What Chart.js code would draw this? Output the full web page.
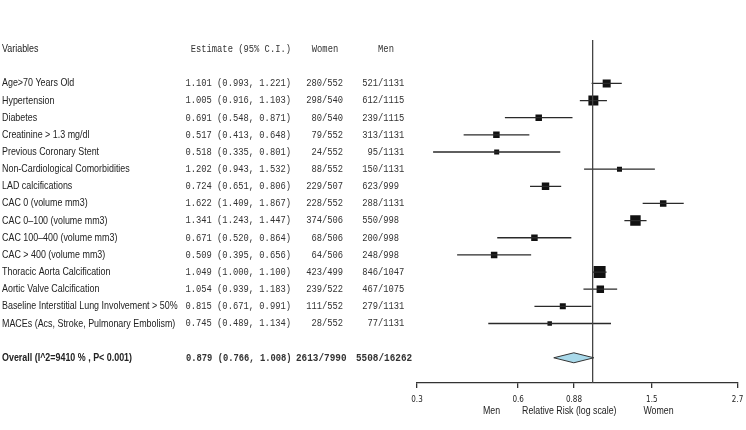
<!DOCTYPE html>
<html>
<head>
<meta charset="utf-8">
<script src="https://cdn.jsdelivr.net/npm/chart.js@4.4.0/dist/chart.umd.min.js"></script>
<style>
  html, body { margin: 0; padding: 0; background: #fff; }
  #wrap { width: 746px; height: 430px; position: relative; }
</style>
</head>
<body>
<div id="wrap"><canvas id="forest"></canvas></div>
<script>
// data
const variables = [
    'Age>70 Years Old',
    'Hypertension',
    'Diabetes',
    'Creatinine > 1.3 mg/dl',
    'Previous Coronary Stent',
    'Non-Cardiological Comorbidities',
    'LAD calcifications',
    'CAC 0 (volume mm3)',
    'CAC 0\u2013100 (volume mm3)',
    'CAC 100\u2013400 (volume mm3)',
    'CAC > 400 (volume mm3)',
    'Thoracic Aorta Calcification',
    'Aortic Valve Calcification',
    'Baseline Interstitial Lung Involvement > 50%',
    'MACEs (Acs, Stroke, Pulmonary Embolism)'
];
const estimates = [1.101, 1.005, 0.691, 0.517, 0.518, 1.202, 0.724, 1.622, 1.341, 0.671, 0.509, 1.049, 1.054, 0.815, 0.745];
const lowerCI   = [0.993, 0.916, 0.548, 0.413, 0.335, 0.943, 0.651, 1.409, 1.243, 0.520, 0.395, 1.000, 0.939, 0.671, 0.489];
const upperCI   = [1.221, 1.103, 0.871, 0.648, 0.801, 1.532, 0.806, 1.867, 1.447, 0.864, 0.656, 1.100, 1.183, 0.991, 1.134];
const women = ['280/552', '298/540', '80/540', '79/552', '24/552', '88/552', '229/507', '228/552', '374/506', '68/506', '64/506', '423/499', '239/522', '111/552', '28/552'];
const men   = ['521/1131', '612/1115', '239/1115', '313/1131', '95/1131', '150/1131', '623/999', '288/1131', '550/998', '200/998', '248/998', '846/1047', '467/1075', '279/1131', '77/1131'];
// relative weights (box area)
const weights = [7.6, 11.8, 5.0, 5.0, 3.0, 3.0, 6.6, 5.0, 13.0, 5.0, 5.0, 17.0, 6.6, 4.3, 2.4];

const overallLabel = 'Overall (I^2=9410 % , P< 0.001)';
const overallEst = 0.879;
const overallLower = 0.766;
const overallUpper = 1.008;
const overallWomen = '2613/7990';
const overallMen = '5508/16262';

const headers = ['Variables', 'Estimate (95% C.I.)', 'Women', 'Men'];
const tickValues = [0.3, 0.6, 0.88, 1.5, 2.7];
const axisTitle = 'Men         Relative Risk (log scale)           Women';

const rows = variables.map((v, i) => i + 1);
const headerRow = -1;
const overallRow = 17;

const fmt = v => v.toFixed(3);
const estText = (e, l, u) => `${fmt(e)} (${fmt(l)}, ${fmt(u)})`;

const SANS = "'Liberation Sans', Arial, sans-serif";
const MONO = "'Liberation Mono', 'Courier New', monospace";

// draws text squeezed horizontally like the original figure
const drawText = (ctx, text, x, y, opts) => {
    ctx.save();
    ctx.font = opts.font;
    ctx.fillStyle = opts.color || '#222';
    ctx.textAlign = opts.align || 'left';
    ctx.textBaseline = 'middle';
    ctx.translate(x, y);
    ctx.scale(opts.sx || 1, 1);
    ctx.fillText(text, 0, 0);
    ctx.restore();
};

// numerator right of slash column, "/denominator" left of it
const drawRatio = (ctx, text, slashX, y, font, sx) => {
    const [num, den] = text.split('/');
    drawText(ctx, num, slashX, y, { font, sx, align: 'right', color: '#333' });
    drawText(ctx, '/' + den, slashX, y, { font, sx, align: 'left', color: '#333' });
};

const tablePlugin = {
    id: 'tableText',
    afterDraw(chart) {
        const ctx = chart.ctx;
        const xS = chart.scales.x;
        const yS = chart.scales.y;
        const labelFont = `11px ${SANS}`;
        const monoFont = `11px ${MONO}`;
        const sSans = 0.81, sMono = 0.8;

        const hy = yS.getPixelForValue(headerRow);
        drawText(ctx, headers[0], 2, hy, { font: labelFont, sx: sSans });
        drawText(ctx, headers[1], 291, hy, { font: monoFont, sx: sMono, align: 'right', color: '#333' });
        drawText(ctx, headers[2], 325, hy, { font: monoFont, sx: sMono, align: 'center', color: '#333' });
        drawText(ctx, headers[3], 386, hy, { font: monoFont, sx: sMono, align: 'center', color: '#333' });

        variables.forEach((name, i) => {
            const y = yS.getPixelForValue(rows[i]);
            drawText(ctx, name, 2, y, { font: labelFont, sx: sSans });
            drawText(ctx, estText(estimates[i], lowerCI[i], upperCI[i]), 291, y,
                { font: monoFont, sx: sMono, align: 'right', color: '#333' });
            drawRatio(ctx, women[i], 322, y, monoFont, sMono);
            drawRatio(ctx, men[i], 378, y, monoFont, sMono);
        });

        const oy = yS.getPixelForValue(overallRow);
        const boldSans = `bold 11px ${SANS}`;
        const boldMono = `bold 11px ${MONO}`;
        drawText(ctx, overallLabel, 2, oy, { font: boldSans, sx: sSans });
        drawText(ctx, estText(overallEst, overallLower, overallUpper), 186, oy, { font: boldMono, sx: sMono, color: '#333' });
        drawText(ctx, overallWomen, 296, oy, { font: boldMono, sx: 0.85, color: '#333' });
        drawText(ctx, overallMen, 356, oy, { font: boldMono, sx: 0.85, color: '#333' });

        // axis caption under the tick labels
        const cx = (chart.chartArea.left + chart.chartArea.right) / 2;
        drawText(ctx, axisTitle, cx + 1, xS.top + 28, { font: labelFont, sx: 0.8, align: 'center' });
    }
};

// summary diamond
const diamondPlugin = {
    id: 'diamond',
    afterDatasetsDraw(chart) {
        const ctx = chart.ctx;
        const xS = chart.scales.x, yS = chart.scales.y;
        const y = yS.getPixelForValue(overallRow);
        const xl = xS.getPixelForValue(overallLower);
        const xm = xS.getPixelForValue(overallEst);
        const xr = xS.getPixelForValue(overallUpper);
        const h = 5;
        ctx.save();
        ctx.beginPath();
        ctx.moveTo(xl, y);
        ctx.lineTo(xm, y - h);
        ctx.lineTo(xr, y);
        ctx.lineTo(xm, y + h);
        ctx.closePath();
        ctx.fillStyle = '#a9d9ea';
        ctx.fill();
        ctx.lineWidth = 1;
        ctx.strokeStyle = '#333';
        ctx.stroke();
        ctx.restore();
    }
};

const yTop = -1.53, yBottom = 18.47;

const ciSets = variables.map((v, i) => ({
    data: [{ x: lowerCI[i], y: rows[i] }, { x: upperCI[i], y: rows[i] }],
    showLine: true,
    borderColor: '#2a2a2a',
    borderWidth: 1.3,
    pointRadius: 0
}));

const refLine = {
    data: [{ x: 1, y: yTop }, { x: 1, y: yBottom }],
    showLine: true,
    borderColor: '#444',
    borderWidth: 1.3,
    pointRadius: 0
};

const boxes = {
    data: estimates.map((e, i) => ({ x: e, y: rows[i] })),
    pointStyle: 'rect',
    pointRadius: weights.map(w => 2.9 * Math.sqrt(w) / Math.SQRT2),
    pointBorderWidth: 0,
    backgroundColor: '#111',
    borderColor: '#111'
};

new Chart(document.getElementById('forest'), {
    type: 'scatter',
    data: { datasets: [refLine, ...ciSets, boxes] },
    options: {
        responsive: true,
        maintainAspectRatio: false,
        animation: false,
        layout: { padding: { left: 417, right: 3, top: 40, bottom: 0 } },
        plugins: { legend: { display: false }, tooltip: { enabled: false } },
        scales: {
            x: {
                type: 'logarithmic',
                min: 0.3,
                max: 2.7,
                afterBuildTicks: scale => { scale.ticks = tickValues.map(v => ({ value: v })); },
                afterFit: scale => {
                    scale.height = 47;
                    scale.paddingLeft = 0;
                    scale.paddingRight = 0;
                },
                ticks: {
                    autoSkip: false,
                    maxRotation: 0,
                    padding: 7,
                    color: '#222',
                    font: { family: "'Liberation Sans Narrow', 'DejaVu Sans Condensed', sans-serif", size: 8 },
                    callback: v => String(v)
                },
                grid: { drawOnChartArea: false, drawTicks: true, tickLength: 5, color: '#333', lineWidth: 1.3 },
                border: { display: true, color: '#333', width: 1.3 },
                title: { display: false }
            },
            y: {
                display: false,
                min: yTop,
                max: yBottom,
                reverse: true
            }
        }
    },
    plugins: [diamondPlugin, tablePlugin]
});
</script>
</body>
</html>
